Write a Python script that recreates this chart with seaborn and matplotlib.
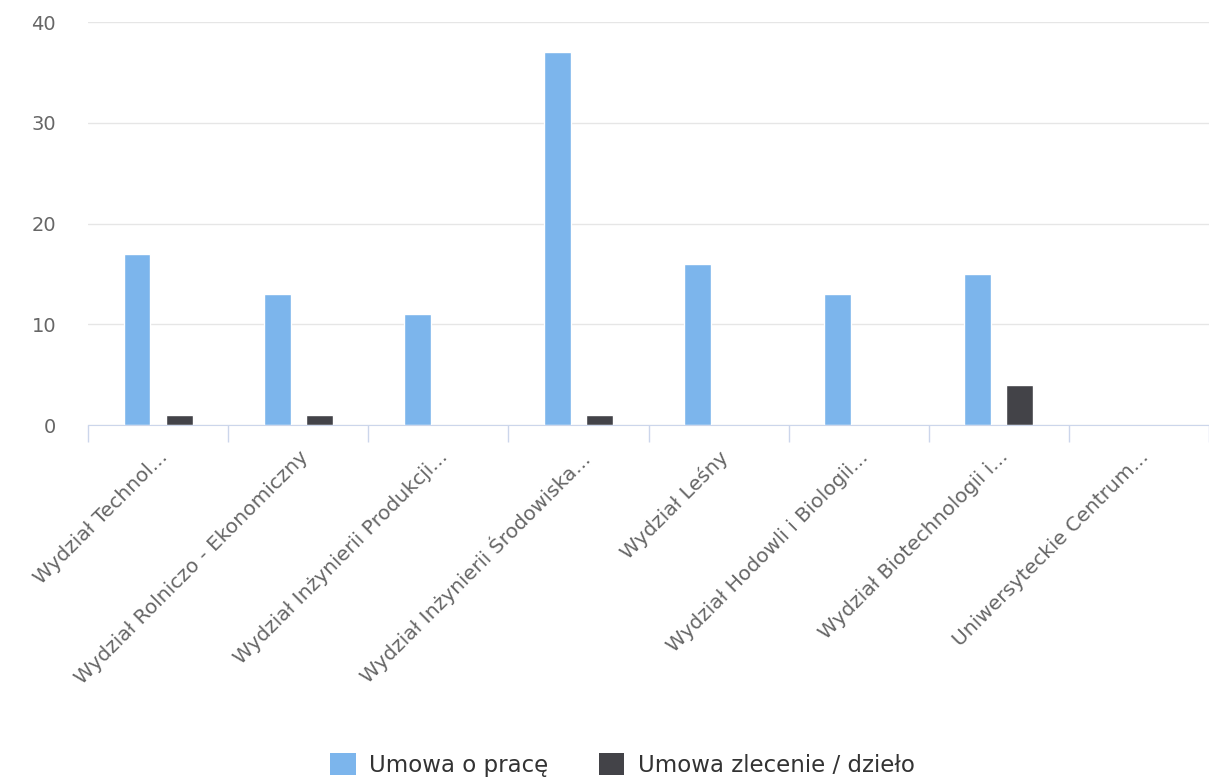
import numpy as np
import pandas as pd
import matplotlib.pyplot as plt
import seaborn as sns
from matplotlib.patches import Patch

# Data
categories = [
    "Wydział Technol...",
    "Wydział Rolniczo - Ekonomiczny",
    "Wydział Inżynierii Produkcji...",
    "Wydział Inżynierii Środowiska...",
    "Wydział Leśny",
    "Wydział Hodowli i Biologii...",
    "Wydział Biotechnologii i...",
    "Uniwersyteckie Centrum...",
]
umowa_o_prace = [17, 13, 11, 37, 16, 13, 15, 0]
umowa_zlecenie = [1, 1, 0, 1, 0, 0, 4, 0]
series = ["Umowa o pracę", "Umowa zlecenie / dzieło"]
colors = ["#7cb5ec", "#434348"]

df = pd.DataFrame({
    "cat": categories * 2,
    "value": umowa_o_prace + umowa_zlecenie,
    "series": [series[0]] * len(categories) + [series[1]] * len(categories),
})

sns.set_style("white")
plt.rcParams["font.family"] = ["DejaVu Sans"]

fig = plt.figure(figsize=(12.09, 7.81), dpi=100)
ax = fig.add_axes([88 / 1209, 1 - 425 / 781, (1209 - 88) / 1209, (425 - 22) / 781])

sns.barplot(data=df, x="cat", y="value", hue="series", palette=colors,
            width=0.6, gap=0.36, ax=ax, legend=False, saturation=1)

ax.set_ylim(0, 40)
ax.set_xlim(-0.5, 7.43)
ax.set_yticks([0, 10, 20, 30, 40])
ax.yaxis.grid(True, color="#e6e6e6", linewidth=1)
ax.set_axisbelow(True)
for s in ["top", "right", "left"]:
    ax.spines[s].set_visible(False)
ax.spines["bottom"].set_color("#ccd6eb")
ax.set_xlabel("")
ax.set_ylabel("")

ax.tick_params(axis="y", length=0, labelsize=14, labelcolor="#666666", pad=23)
ax.set_xticks(np.arange(len(categories)))
ax.set_xticklabels(categories, rotation=45, ha="right", rotation_mode="anchor",
                   fontsize=14.5, color="#666666")
ax.tick_params(axis="x", which="major", length=0, pad=16)
ax.set_xticks(np.arange(len(categories) + 1) - 0.5, minor=True)
ax.tick_params(axis="x", which="minor", bottom=True, length=12,
               color="#ccd6eb", width=1)

handles = [Patch(facecolor=c, edgecolor="none") for c in colors]
fig.legend(handles, series, loc="center", bbox_to_anchor=(0.515, 1 - 765 / 781),
           ncol=2, frameon=False, fontsize=16.5, handlelength=1.1, handleheight=1.1,
           handletextpad=0.6, columnspacing=2.2, labelcolor="#333333")

fig.savefig("out.png", dpi=100)
